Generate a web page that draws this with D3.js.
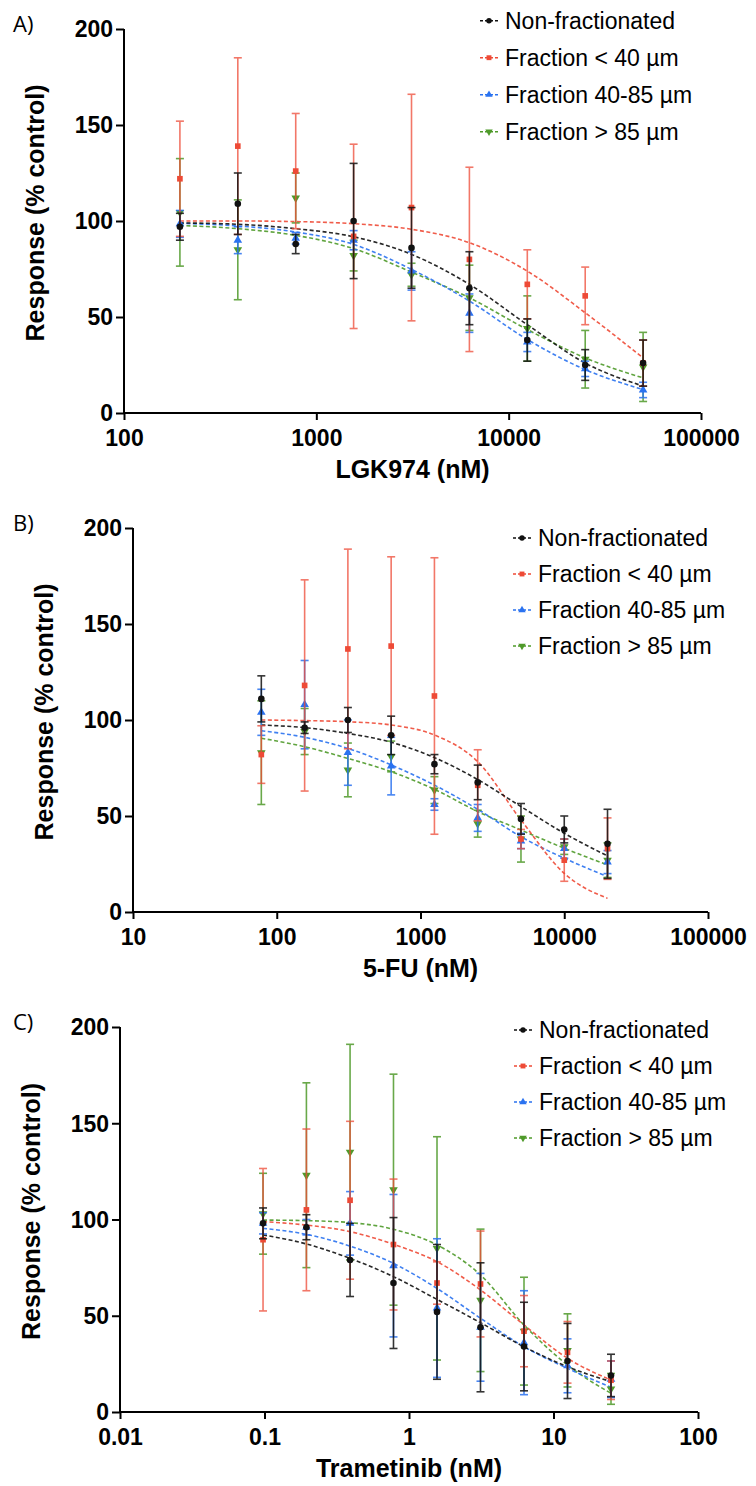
<!DOCTYPE html>
<html>
<head>
<meta charset="utf-8">
<script src="https://cdn.jsdelivr.net/npm/d3@7/dist/d3.min.js"></script>
<style>
  html, body { margin: 0; padding: 0; background: #fff; }
  svg { display: block; }
  .tick-label { font-family: "Liberation Sans", Arial, sans-serif; font-weight: bold; font-size: 23px; fill: #000; }
  .axis-title { font-family: "Liberation Sans", Arial, sans-serif; font-weight: bold; font-size: 25px; fill: #000; }
  .legend-text { font-family: "Liberation Sans", Arial, sans-serif; font-size: 23px; fill: #000; }
  .panel-label { font-family: "Open Sans", "Liberation Sans", sans-serif; font-size: 22px; fill: #000; }
</style>
</head>
<body>
<script>
// Series names and colours (shared by all three panels)
const seriesNames = ["Non-fractionated", "Fraction < 40 µm", "Fraction 40-85 µm", "Fraction > 85 µm"];
const seriesColors = ["#111111", "#ee4a36", "#2a72f0", "#4f9a2a"];
const seriesSymbols = ["circle", "square", "triangleUp", "triangleDown"];

// ---- Panel A: LGK974 ----
const doseA = [195.3, 390.6, 781.3, 1562.5, 3125, 6250, 12500, 25000, 50000];
const nonA = [97, 109, 88, 100, 86, 65, 38, 25, 26];
const nonAsd = [7, 16, 5, 30, 21, 19, 11, 8, 12];
const lt40A = [122, 139, 126, 92, 107, 80, 67, 61, 26];
const lt40Asd = [30, 46, 30, 48, 59, 48, 18, 15, 12];
const midA = [98.5, 90, 91, 90, 74, 52, 37, 23, 12];
const midAsd = [7, 7, 3, 5, 10, 10, 5, 4, 4];
const gtA = [104.5, 85, 112, 82, 72, 60, 44, 28, 24];
const gtAsd = [28, 26, 13, 8, 6, 17, 17, 15, 18];
const nonAfit = [99, 98.3, 96, 91.8, 82.6, 67, 46, 26, 14];
const lt40Afit = [100, 100, 99.7, 98.6, 95.7, 88.7, 73.9, 52.2, 28.7];
const midAfit = [98.8, 97.4, 94.3, 87.8, 74.8, 58.3, 38.3, 22.6, 12.2];
const gtAfit = [97.7, 96, 92.5, 85.6, 73.4, 60, 43.5, 28.7, 18.3];
const xTicksA = [100, 1000, 10000, 100000];
const xTickLabelsA = ["100", "1000", "10000", "100000"];

// ---- Panel B: 5-FU ----
const doseB = [78.1, 156.3, 312.5, 625, 1250, 2500, 5000, 10000, 20000];
const nonB = [111, 96, 100, 92, 77, 67.5, 48.5, 43, 35.5];
const nonBsd = [12, 3, 6.5, 10, 5, 9, 8, 7, 18];
const lt40B = [82, 118, 137, 138.5, 112.5, 66, 38, 27, 33];
const lt40Bsd = [15, 55, 52, 46.5, 72, 18.5, 5, 11, 16];
const midB = [104, 108, 83, 76, 56, 49, 37, 33, 26];
const midBsd = [12, 23, 17, 15, 3, 7, 4, 5, 6];
const gtB = [83, 94, 74, 81, 63.5, 46, 38, 34, 27];
const gtBsd = [27, 12, 14, 8, 7, 7, 12, 4, 9];
const nonBfit = [97.4, 96, 93, 88.4, 80.4, 69, 54.9, 41, 29.2];
const lt40Bfit = [100, 99.7, 99.1, 97.4, 92.2, 78.3, 47.9, 20.1, 7.1];
const midBfit = [94.4, 91, 85.2, 76.6, 66.1, 53.5, 39.2, 28, 18.4];
const gtBfit = [90.5, 86.1, 80, 73.1, 63.9, 52.3, 42.7, 33.2, 24.5];
const xTicksB = [10, 100, 1000, 10000, 100000];
const xTickLabelsB = ["10", "100", "1000", "10000", "100000"];

// ---- Panel C: Trametinib ----
const doseC = [0.0977, 0.195, 0.391, 0.781, 1.5625, 3.125, 6.25, 12.5, 25];
const nonC = [98, 96, 79, 67, 52, 44, 34, 26.5, 19];
const nonCsd = [8, 6.5, 19, 34, 35, 33.5, 23, 19.5, 11];
const lt40C = [89.5, 105, 110, 87, 67, 66.5, 42, 31, 16.5];
const lt40Csd = [37, 42, 41, 34, 11, 27.5, 18.5, 16, 10];
const midC = [98, 96, 98, 76, 54, 44, 36, 24, 17];
const midCsd = [5.5, 4, 16.5, 37, 36, 28, 27, 14, 9.5];
const gtC = [103, 123, 135, 115.5, 85, 58, 42, 32, 12];
const gtCsd = [21, 48, 56, 60, 58, 37, 28, 19, 8];
const nonCfit = [92, 87.3, 79.8, 70.3, 58.5, 46.4, 33.9, 23.5, 15.8];
const lt40Cfit = [98.9, 97.1, 93.7, 87.1, 78.1, 63.4, 45.2, 27.9, 16.6];
const midCfit = [95.4, 92.3, 86.2, 77.2, 64.2, 48.7, 33.9, 22.7, 12.8];
const gtCfit = [99.7, 99.4, 98.4, 94.9, 86.8, 71.2, 45.2, 24.4, 9.7];
const xTicksC = [0.01, 0.1, 1, 10, 100];
const xTickLabelsC = ["0.01", "0.1", "1", "10", "100"];

const yTicks = [0, 50, 100, 150, 200];
const yTitle = "Response (% control)";

const panels = [
  { label: "A)", title: "LGK974 (nM)", dose: doseA,
    means: [nonA, lt40A, midA, gtA], sds: [nonAsd, lt40Asd, midAsd, gtAsd],
    fits: [nonAfit, lt40Afit, midAfit, gtAfit],
    xTicks: xTicksA, xLabels: xTickLabelsA,
    left: 124, right: 701, top: 29, bottom: 413, labelY: 32,
    legendX: 489, legendY: 20.7, legendStep: 37 },
  { label: "B)", title: "5-FU (nM)", dose: doseB,
    means: [nonB, lt40B, midB, gtB], sds: [nonBsd, lt40Bsd, midBsd, gtBsd],
    fits: [nonBfit, lt40Bfit, midBfit, gtBfit],
    xTicks: xTicksB, xLabels: xTickLabelsB,
    left: 133, right: 708, top: 528, bottom: 912, labelY: 531,
    legendX: 522, legendY: 538, legendStep: 36 },
  { label: "C)", title: "Trametinib (nM)", dose: doseC,
    means: [nonC, lt40C, midC, gtC], sds: [nonCsd, lt40Csd, midCsd, gtCsd],
    fits: [nonCfit, lt40Cfit, midCfit, gtCfit],
    xTicks: xTicksC, xLabels: xTickLabelsC,
    left: 120, right: 698, top: 1027, bottom: 1412, labelY: 1030,
    legendX: 523, legendY: 1030, legendStep: 36 }
];

const svg = d3.select("body").append("svg")
  .attr("width", 756).attr("height", 1486);

function symbolFor(kind, size) {
  const map = {
    circle: d3.symbolCircle,
    square: d3.symbolSquare,
    triangleUp: d3.symbolTriangle,
    triangleDown: d3.symbolTriangle
  };
  return d3.symbol().type(map[kind]).size(size)();
}

function drawMarker(g, kind, color, x, y, size) {
  g.append("path")
    .attr("d", symbolFor(kind, size))
    .attr("transform", `translate(${x},${y})` + (kind === "triangleDown" ? " rotate(180)" : ""))
    .attr("fill", color);
}

panels.forEach(p => {
  const g = svg.append("g");
  const x = d3.scaleLog().domain([p.xTicks[0], p.xTicks[p.xTicks.length - 1]]).range([p.left, p.right]);
  const y = d3.scaleLinear().domain([0, 200]).range([p.bottom, p.top]);

  // y axis
  const yAxis = d3.axisLeft(y).tickValues(yTicks).tickSize(8).tickPadding(3).tickFormat(d3.format("d"));
  const ya = g.append("g").attr("transform", `translate(${p.left},0)`).call(yAxis);
  ya.select(".domain").attr("stroke", "#000").attr("stroke-width", 2).attr("d", `M0,${p.top}V${p.bottom}`);
  ya.selectAll(".tick line").attr("stroke", "#000").attr("stroke-width", 2);
  ya.selectAll(".tick text").attr("class", "tick-label").attr("dy", "0.34em");

  // x axis
  const xAxis = d3.axisBottom(x).tickValues(p.xTicks).tickSize(7).tickPadding(8)
    .tickFormat((d, i) => p.xLabels[i]);
  const xa = g.append("g").attr("transform", `translate(0,${p.bottom})`).call(xAxis);
  xa.select(".domain").attr("stroke", "#000").attr("stroke-width", 2).attr("d", `M${p.left},0H${p.right}`);
  xa.selectAll(".tick line").attr("stroke", "#000").attr("stroke-width", 2);
  xa.selectAll(".tick text").attr("class", "tick-label").attr("dy", "0.78em");

  // axis titles
  g.append("text").attr("class", "axis-title")
    .attr("text-anchor", "middle")
    .attr("x", (p.left + p.right) / 2).attr("y", p.bottom + 65)
    .text(p.title);
  g.append("text").attr("class", "axis-title")
    .attr("text-anchor", "middle")
    .attr("transform", `translate(${p.left - 80},${(p.top + p.bottom) / 2 - 8}) rotate(-90)`)
    .text(yTitle);

  // panel letter
  g.append("text").attr("class", "panel-label").attr("x", 13).attr("y", p.labelY).text(p.label);

  // fitted curves
  const line = d3.line().x(d => x(d[0])).y(d => y(d[1])).curve(d3.curveMonotoneX);
  const order = [3, 2, 1, 0];
  order.forEach(s => {
    g.append("path")
      .attr("d", line(p.dose.map((d, i) => [d, p.fits[s][i]])))
      .attr("fill", "none").attr("stroke", seriesColors[s])
      .attr("stroke-width", 1.6).attr("stroke-dasharray", "4,2.5")
      .attr("opacity", 0.9);
  });

  // error bars and means
  order.forEach(s => {
    const eg = g.append("g").attr("stroke", seriesColors[s]).attr("stroke-width", 1.6)
      .attr("opacity", s === 1 ? 0.75 : 0.85);
    p.dose.forEach((d, i) => {
      const cx = x(d);
      const hi = y(p.means[s][i] + p.sds[s][i]);
      const lo = y(Math.max(0, p.means[s][i] - p.sds[s][i]));
      eg.append("line").attr("x1", cx).attr("x2", cx).attr("y1", hi).attr("y2", lo);
      eg.append("line").attr("x1", cx - 4).attr("x2", cx + 4).attr("y1", hi).attr("y2", hi);
      eg.append("line").attr("x1", cx - 4).attr("x2", cx + 4).attr("y1", lo).attr("y2", lo);
    });
    p.dose.forEach((d, i) => {
      drawMarker(g, seriesSymbols[s], seriesColors[s], x(d), y(p.means[s][i]), s === 0 ? 34 : 32);
    });
  });

  // legend
  seriesNames.forEach((name, s) => {
    const ly = p.legendY + s * p.legendStep;
    const lg = g.append("g");
    lg.append("line").attr("x1", p.legendX - 9).attr("x2", p.legendX + 9)
      .attr("y1", ly).attr("y2", ly)
      .attr("stroke", seriesColors[s]).attr("stroke-width", 1.6).attr("stroke-dasharray", "3,2");
    drawMarker(lg, seriesSymbols[s], seriesColors[s], p.legendX, ly, 24);
    lg.append("text").attr("class", "legend-text")
      .attr("x", p.legendX + 16).attr("y", ly).attr("dy", "0.36em").text(name);
  });
});
</script>
</body>
</html>
